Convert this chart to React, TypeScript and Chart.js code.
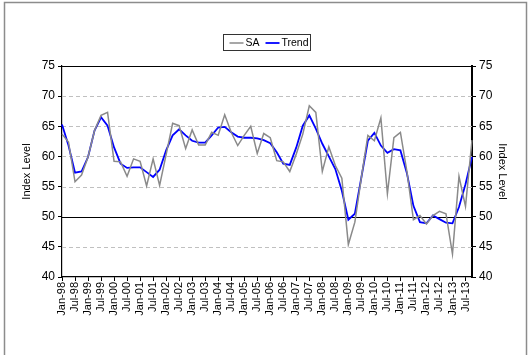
import React, { useEffect, useRef } from 'react';
import { Chart, registerables } from 'chart.js';

Chart.register(...registerables);

const quarterLabels = [
  'Jan-98', 'Apr-98', 'Jul-98', 'Oct-98', 'Jan-99', 'Apr-99', 'Jul-99', 'Oct-99',
  'Jan-00', 'Apr-00', 'Jul-00', 'Oct-00', 'Jan-01', 'Apr-01', 'Jul-01', 'Oct-01',
  'Jan-02', 'Apr-02', 'Jul-02', 'Oct-02', 'Jan-03', 'Apr-03', 'Jul-03', 'Oct-03',
  'Jan-04', 'Apr-04', 'Jul-04', 'Oct-04', 'Jan-05', 'Apr-05', 'Jul-05', 'Oct-05',
  'Jan-06', 'Apr-06', 'Jul-06', 'Oct-06', 'Jan-07', 'Apr-07', 'Jul-07', 'Oct-07',
  'Jan-08', 'Apr-08', 'Jul-08', 'Oct-08', 'Jan-09', 'Apr-09', 'Jul-09', 'Oct-09',
  'Jan-10', 'Apr-10', 'Jul-10', 'Oct-10', 'Jan-11', 'Apr-11', 'Jul-11', 'Oct-11',
  'Jan-12', 'Apr-12', 'Jul-12', 'Oct-12', 'Jan-13', 'Apr-13', 'Jul-13', 'Oct-13',
];

const saValues = [
  63.7, 62.4, 55.8, 56.9, 59.9, 64.3, 66.8, 67.3,
  59.2, 59.1, 56.7, 59.6, 59.2, 55.1, 59.6, 55.2,
  60.3, 65.5, 65.1, 61.3, 64.4, 61.9, 61.9, 64.0,
  63.5, 66.9, 64.0, 61.8, 63.5, 65.0, 60.5, 63.8,
  63.1, 59.3, 59.1, 57.5, 60.4, 63.7, 68.4, 67.3,
  57.5, 61.6, 58.5, 56.4, 45.4, 49.1, 56.5, 63.5,
  62.6, 66.4, 53.8, 63.1, 64.0, 57.5, 49.5, 50.2,
  48.8, 50.2, 50.9, 50.5, 43.8, 56.7, 51.7, 62.7,
];

const trendValues = [
  65.3, 61.8, 57.3, 57.5, 59.9, 64.3, 66.5, 65.1,
  61.5, 58.8, 58.1, 58.2, 58.2, 57.4, 56.6, 57.8,
  61.0, 63.5, 64.5, 63.5, 62.6, 62.3, 62.3, 63.5,
  64.8, 64.9, 64.0, 63.3, 63.1, 63.1, 63.0, 62.7,
  62.2, 60.7, 58.8, 58.6, 61.5, 65.1, 66.8, 64.6,
  62.1, 60.0, 57.9, 54.3, 49.5, 50.5, 56.5, 62.6,
  63.9, 61.8, 60.6, 61.2, 61.0, 57.2, 51.8, 49.1,
  48.9, 50.2, 49.6, 49.0, 48.9, 51.6, 55.4, 59.9,
];

const seriesNames = ['SA', 'Trend'];
const seriesColors = ['#8a8a8a', '#0000ff'];
const yMin = 40;
const yMax = 75;
const yStep = 5;
const dashedGridValues = [45, 55, 60, 65, 70];
const baselineValue = 50;
const axisTitle = 'Index Level';

const FONT = 'Arial, "Liberation Sans", sans-serif';

const decorPlugin = {
  id: 'decor',
  beforeDraw(chart: any) {
    const { ctx, width, height } = chart;
    ctx.save();
    ctx.fillStyle = '#ffffff';
    ctx.fillRect(0, 0, width, height);
    ctx.strokeStyle = '#8c8c8c';
    ctx.lineWidth = 1.5;
    ctx.strokeRect(4.5, 2.5, 522, height + 20);
    ctx.restore();
  },
  beforeDatasetsDraw(chart: any) {
    const { ctx, chartArea: a } = chart;
    const y = chart.scales.y;
    ctx.save();
    ctx.lineWidth = 1;
    ctx.strokeStyle = '#c0c0c0';
    ctx.setLineDash([4, 3]);
    for (const v of dashedGridValues) {
      const py = Math.round(y.getPixelForValue(v)) + 0.5;
      ctx.beginPath();
      ctx.moveTo(a.left, py);
      ctx.lineTo(a.right, py);
      ctx.stroke();
    }
    ctx.setLineDash([]);
    ctx.strokeStyle = '#000000';
    ctx.lineWidth = 1.2;
    const pb = Math.round(y.getPixelForValue(baselineValue)) + 0.5;
    ctx.beginPath();
    ctx.moveTo(a.left, pb);
    ctx.lineTo(a.right, pb);
    ctx.stroke();
    ctx.restore();
  },
  afterDatasetsDraw(chart: any) {
    const { ctx, chartArea: a } = chart;
    ctx.save();
    ctx.strokeStyle = '#000000';
    ctx.lineWidth = 1.2;
    ctx.beginPath();
    ctx.moveTo(a.left, a.top + 0.5);
    ctx.lineTo(a.right, a.top + 0.5);
    ctx.stroke();
    ctx.restore();
  },
  afterDraw(chart: any) {
    const { ctx } = chart;
    const ds = chart.data.datasets;
    ctx.save();
    const bx = 223.5, by = 34.5, bw = 87, bh = 16;
    ctx.strokeStyle = '#333333';
    ctx.lineWidth = 1;
    ctx.strokeRect(bx, by, bw, bh);
    ctx.font = `10.5px ${FONT}`;
    ctx.textBaseline = 'middle';
    ctx.fillStyle = '#000000';
    const cy = by + bh / 2 + 0.5;
    let x = bx + 6;
    for (let i = 0; i < ds.length; i++) {
      ctx.strokeStyle = ds[i].borderColor;
      ctx.lineWidth = ds[i].borderWidth;
      ctx.beginPath();
      ctx.moveTo(x, cy);
      ctx.lineTo(x + 14, cy);
      ctx.stroke();
      x += 16;
      ctx.fillText(ds[i].label, x, cy);
      x += ctx.measureText(ds[i].label).width + 6;
    }
    ctx.restore();
  },
};

export default function App() {
  const canvasRef = useRef<HTMLCanvasElement | null>(null);

  useEffect(() => {
    if (!canvasRef.current) return;
    const yTickFont = { size: 12, family: FONT };
    const chart = new Chart(canvasRef.current, {
      type: 'line',
      data: {
        labels: quarterLabels,
        datasets: [
          {
            label: seriesNames[0],
            data: saValues,
            borderColor: seriesColors[0],
            borderWidth: 1.5,
            pointRadius: 0,
            tension: 0,
            fill: false,
          },
          {
            label: seriesNames[1],
            data: trendValues,
            borderColor: seriesColors[1],
            borderWidth: 1.8,
            pointRadius: 0,
            tension: 0,
            fill: false,
          },
        ],
      },
      options: {
        responsive: false,
        animation: false,
        events: [],
        layout: { padding: { top: 66, left: 0, right: 0, bottom: 0 } },
        plugins: {
          legend: { display: false },
          tooltip: { enabled: false },
          title: { display: false },
        },
        scales: {
          x: {
            type: 'category',
            offset: false,
            afterFit: (s: any) => { s.height = 78; },
            grid: {
              drawOnChartArea: false,
              drawTicks: true,
              tickLength: 4,
              color: (c: any) => (c.index % 2 === 0 ? '#000000' : 'rgba(0,0,0,0)'),
              tickColor: (c: any) => (c.index % 2 === 0 ? '#000000' : 'rgba(0,0,0,0)'),
            },
            border: { display: true, color: '#000000', width: 1.2 },
            ticks: {
              autoSkip: false,
              minRotation: 90,
              maxRotation: 90,
              padding: 1,
              color: '#000000',
              font: { size: 11, family: FONT },
              callback: (_v: any, i: number) => (i % 2 === 0 ? quarterLabels[i] : ''),
            },
          },
          y: {
            position: 'left',
            min: yMin,
            max: yMax,
            afterFit: (s: any) => { s.width = 62; },
            grid: { drawOnChartArea: false, drawTicks: true, tickLength: 4, color: '#000000', tickColor: '#000000' },
            border: { display: true, color: '#000000', width: 1.2 },
            ticks: { stepSize: yStep, padding: 3, color: '#000000', font: yTickFont },
            title: {
              display: true,
              text: axisTitle,
              color: '#000000',
              font: { size: 11, family: FONT },
              padding: { top: 20, bottom: 0 },
            },
          },
          y2: {
            position: 'right',
            min: yMin,
            max: yMax,
            afterFit: (s: any) => { s.width = 58; },
            grid: { drawOnChartArea: false, drawTicks: true, tickLength: 4, color: '#000000', tickColor: '#000000' },
            border: { display: true, color: '#000000', width: 2 },
            ticks: { stepSize: yStep, padding: 3, color: '#000000', font: yTickFont },
            title: {
              display: true,
              text: axisTitle,
              color: '#000000',
              font: { size: 11, family: FONT },
              padding: { top: 21, bottom: 0 },
            },
          },
        },
      } as any,
      plugins: [decorPlugin],
    });
    return () => chart.destroy();
  }, []);

  return (
    <div style={{ position: 'fixed', left: 0, top: 0, width: 530, height: 355, background: '#fff' }}>
      <canvas ref={canvasRef} width={530} height={355} style={{ display: 'block', width: 530, height: 355 }} />
    </div>
  );
}
